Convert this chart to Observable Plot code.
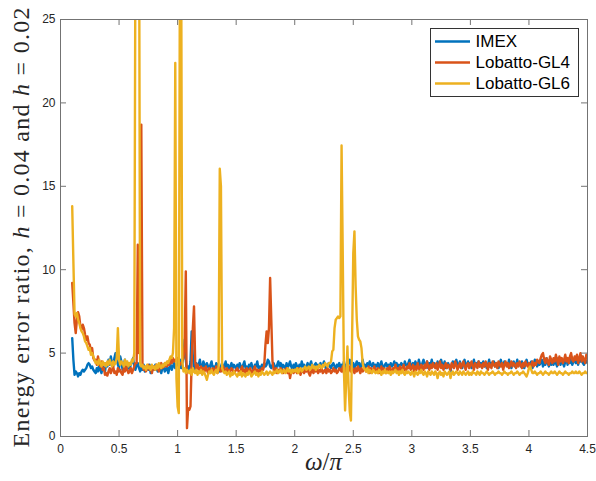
<!DOCTYPE html>
<html><head><meta charset="utf-8">
<script src="https://cdn.jsdelivr.net/npm/d3@7"></script>
<script src="https://cdn.jsdelivr.net/npm/@observablehq/plot@0.6"></script>
<style>
body{margin:0;background:#fff}
#chart{position:relative;width:596px;height:481px}
</style>
</head><body><div id="chart"></div>
<script>
// omega/pi grid: 0.10 .. 4.50 in steps of 0.01
const omega = d3.range(441).map(i => (10 + i) / 100);

const imex = [
5.9,4.6,3.7,3.9,3.8,3.6,3.8,3.7,3.9,4.0,
3.9,4.0,4.1,4.3,4.4,4.3,4.1,4.2,4.0,3.9,
3.8,4.1,3.9,4.3,4.0,3.8,4.2,4.1,3.9,4.4,
4.2,4.6,4.3,4.8,4.4,4.2,4.7,5.0,4.6,4.3,
4.1,4.8,4.5,4.0,4.3,4.6,4.2,4.1,4.4,4.0,
4.3,4.5,4.7,4.2,4.0,4.3,4.4,4.1,3.9,4.2,
4.0,4.3,3.9,4.1,4.2,4.0,4.3,3.8,4.1,4.2,
4.0,4.3,4.1,3.9,4.2,4.0,3.8,4.1,4.3,3.9,
4.0,4.2,3.8,4.1,4.3,4.0,4.2,4.4,4.1,4.3,
4.5,4.2,4.6,4.1,4.4,4.8,5.8,4.6,3.9,4.2,
4.0,4.5,6.3,4.8,4.2,4.0,4.4,4.1,4.3,4.6,
4.2,4.0,4.5,4.3,4.1,4.4,4.2,4.0,4.3,4.5,
4.1,4.2,4.0,4.4,4.3,4.1,3.9,4.2,4.4,4.0,
4.2,4.5,4.1,4.3,4.0,4.2,4.4,4.1,4.3,4.2,
4.0,4.3,4.1,4.4,4.2,4.0,4.3,4.5,4.1,4.2,
4.0,4.3,4.2,4.4,4.1,4.0,4.3,4.2,4.5,4.1,
4.2,4.0,4.3,4.1,4.4,4.2,4.3,4.6,4.5,4.2,
4.1,4.3,4.4,4.2,4.0,4.3,4.5,4.2,4.4,4.1,
4.3,4.2,4.0,4.4,4.1,4.3,4.5,4.2,4.0,4.3,
4.1,4.4,4.2,4.0,4.3,4.1,4.5,4.2,4.3,4.0,
4.2,4.4,4.1,4.3,4.5,4.2,4.0,4.3,4.4,4.1,
4.3,4.2,4.4,4.1,4.3,4.5,4.2,4.0,4.3,4.4,
4.2,4.1,4.3,4.4,4.2,4.0,4.3,4.2,4.4,4.1,
4.3,4.2,4.5,4.1,4.3,4.2,4.4,4.6,4.3,4.2,
4.4,4.1,4.3,4.5,4.2,4.4,4.1,4.3,4.6,4.2,
4.3,4.1,4.4,4.2,4.5,4.3,4.2,4.4,4.1,4.3,
4.2,4.4,4.1,4.3,4.5,4.2,4.0,4.3,4.4,4.2,
4.3,4.1,4.4,4.2,4.3,4.5,4.2,4.4,4.1,4.3,
4.2,4.4,4.3,4.1,4.5,4.3,4.2,4.4,4.6,4.3,
4.2,4.4,4.1,4.5,4.3,4.2,4.6,4.3,4.1,4.4,
4.6,4.3,4.2,4.5,4.1,4.4,4.3,4.6,4.2,4.4,
4.3,4.1,4.5,4.2,4.4,4.6,4.3,4.2,4.5,4.1,
4.3,4.4,4.2,3.9,4.3,4.5,4.2,4.4,4.6,4.3,
4.2,4.5,4.3,4.1,4.4,4.6,4.2,4.3,4.5,4.2,
4.4,4.1,4.3,4.6,4.2,4.4,4.3,4.5,4.2,4.4,
4.3,4.5,4.2,4.4,4.1,4.3,4.6,4.2,4.4,4.3,
4.5,4.2,4.4,4.3,4.1,4.4,4.6,4.3,4.2,4.5,
4.3,4.4,4.2,4.6,4.3,4.1,4.4,4.5,4.2,4.3,
4.6,4.3,4.4,4.2,4.5,4.3,4.1,4.4,4.6,4.3,
4.2,4.4,4.5,4.1,4.3,4.6,4.4,4.2,4.5,4.3,
4.4,4.6,4.2,4.5,4.3,4.7,4.4,4.2,4.6,4.3,
4.5,4.3,4.6,4.4,4.2,4.7,4.5,4.3,4.6,4.4,
4.2,4.5,4.7,4.3,4.6,4.4,4.8,4.3,4.5,4.6,
4.4,4.7,4.3,4.6,4.5,4.8,4.4,4.3,4.6,4.5,
4.4];

const gl4 = [
9.2,8.0,6.8,6.2,7.0,7.45,7.2,6.6,6.4,6.7,
6.5,6.1,5.8,6.0,5.6,5.5,5.1,5.3,4.7,4.55,
4.6,4.3,4.8,4.4,4.2,4.5,4.0,4.1,3.7,3.8,
3.65,3.9,4.1,3.8,4.0,4.2,3.8,3.9,3.7,4.1,
3.9,4.0,3.8,3.7,4.1,3.9,4.2,4.0,3.8,3.9,
4.1,3.8,4.0,4.2,4.4,4.4,11.5,5.0,10.5,18.7,
4.3,4.0,4.2,3.9,4.1,4.3,4.0,4.2,3.8,4.1,
4.2,4.0,4.3,4.1,3.9,4.2,4.4,4.1,4.3,4.2,
4.4,4.2,4.5,4.3,4.6,4.4,4.7,4.5,4.6,4.5,
4.7,4.5,4.3,4.4,4.5,4.7,5.5,9.9,0.5,1.7,
1.6,1.8,4.5,6.5,7.8,4.5,4.0,4.3,4.1,3.9,
4.2,4.0,4.1,3.9,4.2,4.0,3.8,4.1,4.0,3.9,
4.1,3.9,4.0,4.2,3.8,4.0,4.1,3.9,4.0,4.2,
3.9,4.0,4.1,3.8,4.0,3.9,4.1,4.0,3.8,3.9,
4.0,4.1,3.9,3.8,4.0,4.2,3.9,4.0,3.8,4.1,
3.9,4.0,4.1,3.8,3.9,4.0,4.2,3.9,4.0,3.8,
4.0,3.9,4.1,4.0,4.3,5.5,6.3,5.6,6.5,9.5,
7.0,4.5,4.0,3.9,4.1,3.8,4.0,3.9,4.1,4.0,
3.8,4.0,3.9,4.1,3.8,4.0,3.5,3.9,4.0,3.8,
4.0,3.9,3.8,4.1,3.9,3.7,4.0,3.9,3.8,4.0,
3.9,4.1,3.8,3.65,3.9,4.0,3.8,4.1,3.9,4.0,
3.8,4.0,3.9,4.1,3.8,3.9,4.0,3.8,4.1,3.9,
4.0,3.8,3.9,4.1,3.9,4.0,3.8,3.9,4.1,4.0,
3.9,4.2,3.8,4.1,4.0,3.7,4.0,4.2,3.9,4.1,
4.0,3.8,4.1,3.9,4.2,4.0,3.8,4.1,3.9,4.0,
4.1,3.9,4.0,4.2,3.8,4.1,3.9,4.0,4.2,3.9,
4.0,4.1,3.8,4.0,4.2,3.9,4.1,4.0,3.8,4.1,
3.9,4.2,4.0,3.8,4.1,4.0,4.3,3.9,4.1,4.0,
4.2,3.9,4.1,4.3,4.0,3.9,4.2,4.1,4.4,4.0,
4.1,4.3,3.9,4.2,4.0,4.4,4.1,3.9,4.3,4.2,
4.0,4.3,4.1,4.5,4.2,4.0,4.3,4.1,4.4,4.2,
4.1,4.4,4.0,4.2,4.5,4.1,4.3,4.0,4.2,4.4,
4.1,4.3,4.2,4.0,4.4,4.2,4.1,4.5,4.3,4.0,
4.2,4.4,4.1,4.3,4.5,4.2,4.0,4.3,4.4,4.1,
4.3,4.5,4.2,4.0,4.4,4.3,4.1,4.5,4.2,4.3,
4.1,4.4,4.2,4.5,4.3,4.0,4.4,4.2,4.1,4.5,
4.3,4.2,4.4,4.1,4.5,4.3,4.2,4.4,4.0,4.3,
4.5,4.2,4.4,4.1,4.3,4.5,4.2,4.4,4.3,4.1,
4.4,4.2,4.5,4.3,4.1,4.4,4.2,4.5,4.3,4.2,
4.4,4.1,4.3,4.5,4.2,4.4,4.3,4.6,4.5,4.4,
4.7,4.9,5.0,4.6,4.4,4.7,4.5,4.3,4.8,4.6,
4.4,4.7,4.5,4.9,4.6,4.3,4.8,4.5,4.7,4.4,
4.6,4.9,4.5,4.7,4.4,4.8,5.0,4.6,4.5,4.8,
4.6,4.9,4.4,4.7,5.0,4.5,4.8,4.6,4.4,4.9,
4.7];

const gl6 = [
13.8,10.5,7.35,7.2,7.4,7.0,6.8,6.5,6.3,6.2,
6.0,5.7,5.6,5.4,5.2,5.3,4.9,5.0,4.8,4.6,
4.4,4.5,4.3,4.6,4.4,4.2,4.5,4.3,4.4,4.2,
4.5,4.3,4.6,4.4,4.2,4.5,4.3,4.4,4.7,6.5,
4.6,4.3,4.5,4.4,4.2,4.6,4.3,4.5,4.2,4.4,
4.3,4.6,4.5,5.0,30,40,40,35,4.4,4.2,
4.3,4.1,4.2,4.0,4.3,4.1,4.2,4.0,4.3,4.1,
4.2,4.0,4.3,4.1,4.4,4.2,4.1,4.3,4.2,4.4,
4.3,4.5,4.4,4.6,4.8,4.7,5.0,6.5,22.4,3.5,
1.8,1.4,30,30,4.5,3.9,4.1,3.8,4.0,3.9,
3.8,4.0,3.7,4.1,3.9,3.8,4.0,3.7,3.9,3.8,
4.0,3.7,3.9,3.8,3.6,3.4,3.7,3.9,3.8,4.0,
3.8,3.7,3.9,4.0,3.8,4.2,16.05,15.0,4.1,3.9,
3.8,3.9,3.7,3.8,3.9,3.6,3.8,3.7,3.9,3.8,
3.7,3.6,3.8,3.7,3.9,3.6,3.8,3.7,3.6,3.8,
3.7,3.9,3.8,3.6,3.7,3.8,3.9,3.7,3.8,3.6,
3.8,3.7,3.9,3.8,3.7,3.8,3.9,3.7,3.8,3.9,
3.8,3.7,3.9,3.8,3.9,4.0,3.8,3.9,4.0,3.8,
3.9,4.0,3.8,3.9,4.1,3.9,4.0,3.8,4.0,3.9,
4.0,3.9,4.1,3.8,4.0,4.1,3.9,4.0,4.1,4.2,
4.0,4.1,4.2,4.0,4.1,4.3,4.1,4.2,4.0,4.2,
4.1,4.3,4.2,4.1,4.3,4.2,4.4,4.3,4.2,4.4,
4.4,4.5,5.1,5.2,6.5,7.0,7.1,7.2,7.1,7.2,
17.45,11.0,4.0,1.56,3.5,5.4,3.0,1.5,0.96,6.0,
11.0,12.3,9.0,7.0,6.0,5.8,5.7,5.3,4.4,4.1,
4.0,3.9,4.1,3.8,4.0,3.9,3.8,4.0,3.9,3.8,
3.9,3.8,4.0,3.9,3.7,3.9,3.8,4.0,3.8,3.9,
3.8,3.9,3.7,3.9,3.8,3.9,4.0,3.8,3.9,3.7,
3.9,3.8,4.0,3.8,3.7,3.9,3.8,3.9,3.8,3.7,
3.9,3.8,3.6,3.9,3.8,3.7,3.9,3.8,4.0,3.8,
3.7,3.9,3.8,3.6,3.9,3.8,3.7,3.9,3.8,3.7,
3.9,3.8,3.5,3.8,3.9,3.7,3.8,3.6,3.9,3.8,
3.7,3.8,3.9,3.5,3.8,3.9,3.7,3.8,3.9,3.8,
3.7,3.9,3.8,3.7,3.9,3.8,3.7,3.8,3.9,3.7,
3.8,3.7,3.9,3.8,3.8,3.7,3.9,3.8,3.7,3.9,
3.8,3.8,3.7,3.8,3.9,3.8,3.7,3.8,3.8,3.9,
3.8,3.7,3.8,3.8,3.9,3.8,3.8,3.7,3.8,3.9,
3.8,3.8,3.7,3.8,3.8,3.9,3.8,3.7,3.8,3.8,
3.9,3.8,3.7,3.8,3.8,3.9,3.8,3.7,3.6,3.8,
4.1,4.2,4.0,3.8,3.8,3.9,3.8,3.7,3.8,3.8,
3.9,3.8,3.7,3.8,3.9,3.8,3.8,3.7,3.8,3.9,
3.8,3.8,3.9,3.8,3.7,3.8,3.9,3.8,3.8,3.7,
3.8,3.9,3.8,3.8,3.7,3.8,3.8,3.9,3.8,3.8,
3.9,3.8,3.8,3.9,3.8,3.7,3.8,3.8,3.9,3.8,
3.8];

const seriesNames = ["IMEX", "Lobatto-GL4", "Lobatto-GL6"];
const seriesColors = ["#0072BD", "#D95319", "#EDB120"];
const xTicks = [0, 0.5, 1, 1.5, 2, 2.5, 3, 3.5, 4, 4.5];
const xTickLabels = ["0", "0.5", "1", "1.5", "2", "2.5", "3", "3.5", "4", "4.5"];
const yTicks = [0, 5, 10, 15, 20, 25];
const yTickLabels = ["0", "5", "10", "15", "20", "25"];

const W = 596, H = 481, mL = 60, mR = 9, mT = 19, mB = 45;
const innerW = W - mL - mR, innerH = H - mT - mB;
const axisColor = "#737373";

const rowsOf = (vals) => vals.map((v, i) => ({omega: omega[i], value: v}));
const allSeries = [imex, gl4, gl6];

const chart = Plot.plot({
  width: W, height: H,
  marginLeft: mL, marginRight: mR, marginTop: mT, marginBottom: mB,
  style: {background: "#fff", fontFamily: "'Liberation Sans', Helvetica, Arial, sans-serif", fontSize: "12px", color: "#262626", overflow: "visible"},
  x: {domain: [0, 4.5]},
  y: {domain: [0, 25]},
  marks: [
    ...allSeries.map((s, k) => Plot.line(rowsOf(s), {x: "omega", y: "value", stroke: seriesColors[k], strokeWidth: 2.4, clip: true})),
    Plot.frame({stroke: axisColor, strokeWidth: 1}),
    Plot.tickX(xTicks, {x: d => d, insetTop: innerH - 6, stroke: axisColor}),
    Plot.tickX(xTicks, {x: d => d, insetBottom: innerH - 6, stroke: axisColor}),
    Plot.tickY(yTicks, {y: d => d, insetRight: innerW - 6, stroke: axisColor}),
    Plot.tickY(yTicks, {y: d => d, insetLeft: innerW - 6, stroke: axisColor}),
    Plot.axisX(xTicks, {tickSize: 0, tickPadding: 8, tickFormat: (d, i) => xTickLabels[i], label: null, fill: "#262626"}),
    Plot.axisY(yTicks, {tickSize: 0, tickPadding: 5, tickFormat: (d, i) => yTickLabels[i], label: null, fill: "#262626"})
  ]
});
document.getElementById("chart").appendChild(chart);

const svg = d3.select(chart);
const serif = "'Liberation Serif', 'DejaVu Serif', 'Times New Roman', serif";

// y label
const yl = svg.append("text")
  .attr("transform", `translate(28.5,${mT + innerH / 2}) rotate(-90)`)
  .attr("text-anchor", "middle")
  .attr("font-family", serif)
  .attr("font-size", 24)
  .attr("fill", "#262626")
  .attr("textLength", 440)
  .attr("lengthAdjust", "spacing");
yl.append("tspan").text("Energy error ratio, ");
yl.append("tspan").attr("font-style", "italic").text("h");
yl.append("tspan").text(" = 0.04 and ");
yl.append("tspan").attr("font-style", "italic").text("h");
yl.append("tspan").text(" = 0.02");

// x label
const xl = svg.append("text")
  .attr("x", mL + innerW / 2).attr("y", 470)
  .attr("text-anchor", "middle")
  .attr("font-family", serif)
  .attr("font-size", 25)
  .attr("fill", "#262626");
xl.append("tspan").attr("font-style", "italic").text("ω");
xl.append("tspan").text("/");
xl.append("tspan").attr("font-style", "italic").text("π");

// legend
const lg = svg.append("g");
lg.append("rect").attr("x", 430.5).attr("y", 28.5).attr("width", 148).attr("height", 68)
  .attr("fill", "#fff").attr("stroke", "#333").attr("stroke-width", 1);
seriesNames.forEach((name, k) => {
  const y = 41.5 + k * 21;
  lg.append("line").attr("x1", 435).attr("x2", 470).attr("y1", y).attr("y2", y)
    .attr("stroke", seriesColors[k]).attr("stroke-width", 2.5);
  lg.append("text").attr("x", 475.5).attr("y", y).attr("dy", "0.35em")
    .attr("text-anchor", "start")
    .attr("font-family", "'Liberation Sans', Helvetica, Arial, sans-serif")
    .attr("font-size", 17).attr("fill", "#000").text(name);
});
</script>
</body></html>
